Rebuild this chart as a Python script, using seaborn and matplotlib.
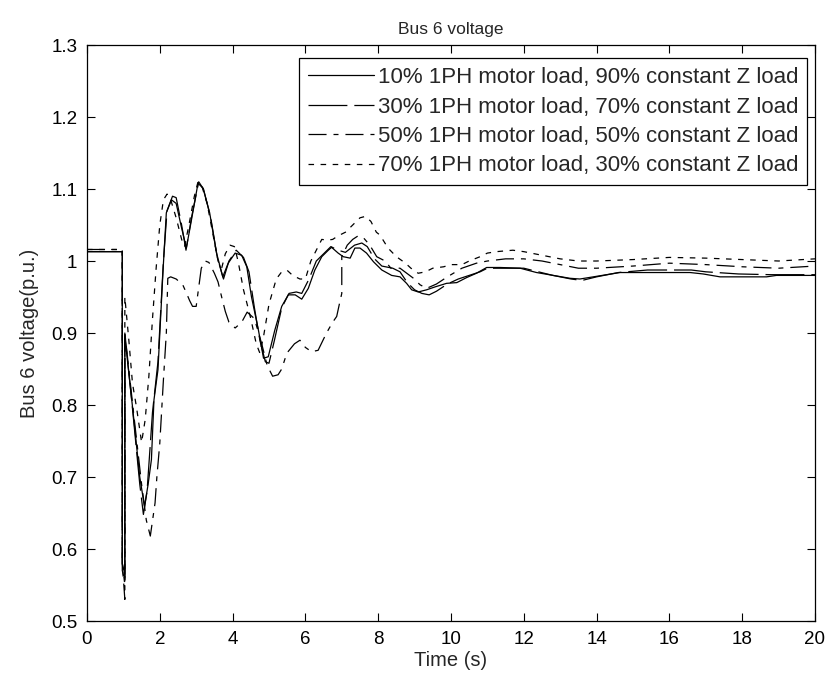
import numpy as np
import pandas as pd
import matplotlib
matplotlib.use("Agg")
import matplotlib.pyplot as plt
import seaborn as sns

# ---------------- data ----------------
labels = [
    "10% 1PH motor load, 90% constant Z load",
    "30% 1PH motor load, 70% constant Z load",
    "50% 1PH motor load, 50% constant Z load",
    "70% 1PH motor load, 30% constant Z load",
]

t1 = [0, 0.97, 0.97, 1.04, 1.04, 1.26, 1.45, 1.58, 1.68, 1.77, 1.84, 1.95, 2.09, 2.18, 2.32,
      2.45, 2.59, 2.73, 2.87, 3.05, 3.19, 3.37, 3.56, 3.73, 3.88, 4.07, 4.25, 4.39, 4.52, 4.71,
      4.85, 4.98, 5.16, 5.35, 5.53, 5.72, 5.9, 6.08, 6.26, 6.45, 6.63, 6.72, 6.9, 7.04, 7.23,
      7.36, 7.5, 7.68, 7.87, 8.1, 8.37, 8.6, 8.78, 8.92, 9.1, 9.33, 9.56, 9.88, 10.16, 10.43,
      10.7, 10.98, 11.35, 11.9, 12.35, 12.81, 13.27, 13.54, 13.91, 14.64, 16.57, 16.93, 17.39,
      18.67, 18.94, 20]
v1 = [1.013, 1.013, 0.58, 0.565, 0.895, 0.793, 0.70, 0.659, 0.69, 0.724, 0.807, 0.849, 0.9875,
      1.067, 1.085, 1.08, 1.048, 1.018, 1.057, 1.108, 1.101, 1.067, 1.011, 0.978, 0.997, 1.011,
      1.008, 0.992, 0.95, 0.904, 0.865, 0.867, 0.904, 0.937, 0.953, 0.953, 0.947, 0.962, 0.9875,
      1.006, 1.015, 1.019, 1.011, 1.006, 1.004, 1.018, 1.018, 1.011, 0.999, 0.9875, 0.98, 0.978,
      0.969, 0.96, 0.957, 0.96, 0.964, 0.969, 0.97, 0.977, 0.983, 0.991, 0.991, 0.99, 0.984,
      0.98, 0.976, 0.975, 0.978, 0.984, 0.984, 0.982, 0.978, 0.978, 0.98, 0.98]

t2 = [0, 0.97, 0.97, 1.04, 1.04, 1.26, 1.45, 1.55, 1.65, 1.8, 1.95, 2.1, 2.2, 2.35, 2.45, 2.6,
      2.72, 2.87, 3.07, 3.2, 3.4, 3.58, 3.75, 3.9, 4.1, 4.3, 4.45, 4.6, 4.75, 4.9, 5.0, 5.15,
      5.35, 5.55, 5.75, 5.9, 6.1, 6.3, 6.5, 6.7, 6.9, 7.1, 7.35, 7.55, 7.7, 7.9, 8.1, 8.4, 8.6,
      8.8, 9.0, 9.2, 9.4, 9.6, 9.9, 10.2, 10.5, 10.8, 11.0, 11.4, 12.0, 12.4, 12.8, 13.3, 13.6,
      14.0, 14.6, 15.4, 16.6, 17.0, 17.9, 18.8, 20]
v2 = [1.013, 1.013, 0.57, 0.555, 0.9, 0.79, 0.69, 0.648, 0.68, 0.79, 0.86, 1.0, 1.07, 1.09,
      1.088, 1.05, 1.015, 1.06, 1.11, 1.10, 1.06, 1.005, 0.975, 1.0, 1.015, 1.005, 0.985, 0.935,
      0.89, 0.86, 0.858, 0.89, 0.935, 0.955, 0.957, 0.955, 0.975, 1.0, 1.01, 1.02, 1.015, 1.012,
      1.022, 1.025, 1.02, 1.003, 0.993, 0.99, 0.985, 0.97, 0.96, 0.955, 0.953, 0.958, 0.968,
      0.975, 0.98, 0.985, 0.99, 0.99, 0.99, 0.985, 0.98, 0.975, 0.973, 0.978, 0.984, 0.9875,
      0.9875, 0.985, 0.982, 0.981, 0.981]

t3 = [0, 0.97, 0.97, 1.04, 1.04, 1.3, 1.5, 1.63, 1.74, 1.87, 1.92, 2.0, 2.1, 2.18, 2.22, 2.3,
      2.45, 2.63, 2.72, 2.82, 2.9, 3.0, 3.05, 3.14, 3.25, 3.35, 3.5, 3.6, 3.7, 3.8, 3.9, 4.07,
      4.25, 4.4, 4.6, 4.8, 4.95, 5.1, 5.25, 5.35, 5.49, 5.7, 5.85, 6.0, 6.17, 6.35, 6.58, 6.75,
      6.86, 6.95, 7.0, 7.0, 7.15, 7.3, 7.45, 7.6, 7.77, 7.96, 8.19, 8.35, 8.6, 8.97, 9.15, 9.33,
      9.6, 9.9, 10.3, 10.7, 11.0, 11.5, 12.0, 12.5, 13.0, 13.5, 14.0, 15.0, 16.0, 17.0, 18.0,
      19.0, 20.0]
v3 = [1.016, 1.016, 0.58, 0.53, 0.9, 0.78, 0.69, 0.64, 0.618, 0.664, 0.70, 0.747, 0.835, 0.9,
      0.976, 0.978, 0.975, 0.967, 0.957, 0.945, 0.937, 0.937, 0.956, 0.99, 1.0, 0.998, 0.983,
      0.971, 0.95, 0.93, 0.915, 0.907, 0.915, 0.929, 0.92, 0.885, 0.855, 0.84, 0.842, 0.85,
      0.872, 0.885, 0.89, 0.88, 0.874, 0.876, 0.9, 0.915, 0.923, 0.944, 0.955, 1.006, 1.022,
      1.03, 1.035, 1.032, 1.022, 1.006, 1.0, 0.99, 0.99, 0.976, 0.967, 0.962, 0.968, 0.978,
      0.99, 0.997, 1.0, 1.003, 1.003, 1.0, 0.995, 0.99, 0.99, 0.993, 0.997, 0.995, 0.992, 0.99,
      0.993]

t4 = [0, 0.97, 0.97, 1.04, 1.04, 1.15, 1.25, 1.36, 1.5, 1.6, 1.7, 1.8, 1.9, 2.0, 2.1, 2.2, 2.3,
      2.45, 2.6, 2.68, 2.8, 2.95, 3.05, 3.15, 3.3, 3.45, 3.6, 3.7, 3.8, 3.93, 4.05, 4.15, 4.3,
      4.5, 4.65, 4.75, 4.85, 5.0, 5.2, 5.35, 5.5, 5.65, 5.85, 6.0, 6.15, 6.3, 6.45, 6.6, 6.75,
      6.9, 7.1, 7.3, 7.5, 7.65, 7.8, 7.95, 8.05, 8.27, 8.5, 8.75, 8.9, 9.1, 9.3, 9.5, 9.8, 10.0,
      10.3, 10.5, 10.8, 11.0, 11.25, 11.7, 12.0, 12.5, 13.0, 13.5, 14.0, 15.0, 16.0, 17.0, 18.0,
      19.0, 20.0]
v4 = [1.016, 1.016, 0.58, 0.55, 0.95, 0.89, 0.83, 0.797, 0.748, 0.78, 0.84, 0.92, 0.99, 1.05,
      1.085, 1.093, 1.085, 1.06, 1.03, 1.02, 1.05, 1.09, 1.11, 1.105, 1.08, 1.04, 1.0, 0.99,
      1.01, 1.022, 1.02, 1.0, 0.96, 0.92, 0.885, 0.872, 0.895, 0.94, 0.975, 0.985, 0.987, 0.98,
      0.975, 0.975, 1.0, 1.015, 1.03, 1.029, 1.03, 1.035, 1.04, 1.05, 1.06, 1.062, 1.055, 1.04,
      1.036, 1.018, 1.006, 0.997, 0.99, 0.983, 0.985, 0.99, 0.992, 0.995, 0.995, 1.0, 1.006,
      1.011, 1.013, 1.015, 1.013, 1.008, 1.003, 1.0, 1.0, 1.002, 1.005, 1.004, 1.002, 1.0, 1.003]

x_ticks = [0, 2, 4, 6, 8, 10, 12, 14, 16, 18, 20]
y_ticks = [0.5, 0.6, 0.7, 0.8, 0.9, 1.0, 1.1, 1.2, 1.3]
y_ticklabels = ["0.5", "0.6", "0.7", "0.8", "0.9", "1", "1.1", "1.2", "1.3"]

# ---------------- styling ----------------
sns.set_theme(style="ticks")
plt.rcParams["font.family"] = ["Liberation Sans", "DejaVu Sans"]
plt.rcParams["lines.scale_dashes"] = False

series = [(t1, v1), (t2, v2), (t3, v3), (t4, v4)]
dash_styles = [None, (28, 5), (13, 5, 3.6, 5), (4, 4.7)]

fig = plt.figure(figsize=(8.3, 6.81), dpi=100)
fig.patch.set_facecolor("white")
ax = fig.add_axes([0.1048, 0.0881, 0.8771, 0.8458])
ax.set_facecolor("white")

for (tt, vv), lab, ds in zip(series, labels, dash_styles):
    df = pd.DataFrame({"t": tt, "v": vv})
    sns.lineplot(data=df, x="t", y="v", ax=ax, estimator=None, sort=False,
                 color="black", linewidth=0.9, label=lab)
    line = ax.lines[-1]
    if ds is not None:
        line.set_dashes(ds)

ax.set_xlim(0, 20)
ax.set_ylim(0.5, 1.3)
ax.set_xticks(x_ticks)
ax.set_xticklabels([str(v) for v in x_ticks])
ax.set_yticks(y_ticks)
ax.set_yticklabels(y_ticklabels)

for sp in ax.spines.values():
    sp.set_visible(True)
    sp.set_color("black")
    sp.set_linewidth(0.9)

ax.tick_params(axis="both", which="both", direction="in", length=5.5, width=0.8,
               top=True, right=True, labelsize=13.5, colors="black")
ax.tick_params(axis="x", pad=7)
ax.tick_params(axis="y", pad=7)

ax.set_xlabel("Time (s)", fontsize=14.5, labelpad=2)
ax.set_ylabel("Bus 6 voltage(p.u.)", fontsize=14.5, labelpad=9)
ax.set_title("Bus 6 voltage", fontsize=12.5, pad=8)

leg = ax.legend(loc="upper right", bbox_to_anchor=(0.989, 0.977), borderaxespad=0,
                fontsize=16, frameon=True, fancybox=False, handlelength=3.0,
                handletextpad=0.15, labelspacing=0.38, borderpad=0.4)
leg.get_frame().set_edgecolor("black")
leg.get_frame().set_linewidth(0.9)
leg.get_frame().set_alpha(1)

fig.savefig("out.png", dpi=100, facecolor="white")
